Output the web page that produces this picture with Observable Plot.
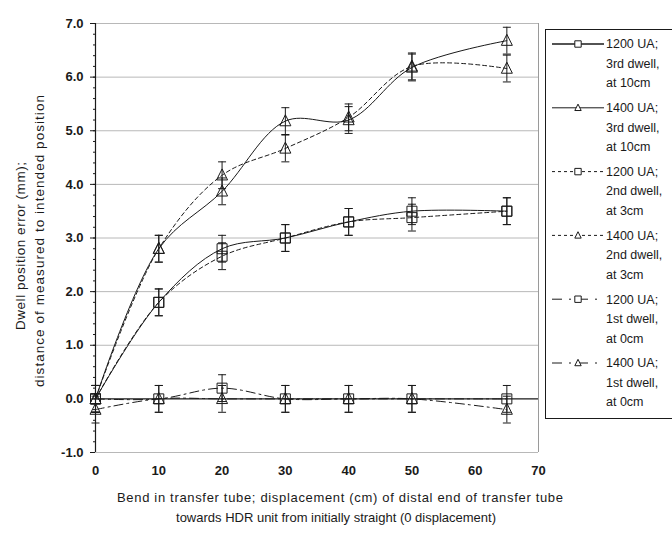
<!DOCTYPE html>
<html><head><meta charset="utf-8">
<script src="https://cdn.jsdelivr.net/npm/d3@7"></script>
<script src="https://cdn.jsdelivr.net/npm/@observablehq/plot@0.6"></script>
<style>
body{margin:0;background:#fff;}
#chart{width:672px;height:534px;overflow:hidden;}
</style></head><body><div id="chart"></div>
<script>
// ---- data ----
const displacementCm = [0, 10, 20, 30, 40, 50, 65];
const ua1200_3rd = [0.0, 1.8, 2.8, 3.0, 3.3, 3.5, 3.5];
const ua1400_3rd = [0.0, 2.8, 3.87, 5.18, 5.2, 6.18, 6.68];
const ua1200_2nd = [0.0, 1.8, 2.66, 3.0, 3.3, 3.38, 3.5];
const ua1400_2nd = [0.0, 2.8, 4.17, 4.67, 5.25, 6.2, 6.16];
const ua1200_1st = [0.0, 0.0, 0.2, 0.0, 0.0, 0.0, 0.0];
const ua1400_1st = [-0.2, 0.0, 0.0, 0.0, 0.0, 0.0, -0.2];
const errorHalf = 0.25;
const seriesLabels = [
  ["1200 UA;", "3rd dwell,", "at 10cm"],
  ["1400 UA;", "3rd dwell,", "at 10cm"],
  ["1200 UA;", "2nd dwell,", "at 3cm"],
  ["1400 UA;", "2nd dwell,", "at 3cm"],
  ["1200 UA;", "1st dwell,", "at 0cm"],
  ["1400 UA;", "1st dwell,", "at 0cm"]
];
const seriesValues = [ua1200_3rd, ua1400_3rd, ua1200_2nd, ua1400_2nd, ua1200_1st, ua1400_1st];
const xTicks = [0, 10, 20, 30, 40, 50, 60, 70];
const yTicks = [-1, 0, 1, 2, 3, 4, 5, 6, 7];
const yTitle1 = "Dwell position error (mm);";
const yTitle2 = "distance of measured to intended position";
const xTitle1 = "Bend in transfer tube; displacement (cm) of distal end of transfer tube";
const xTitle2 = "towards HDR unit from initially straight (0 displacement)";

// ---- styles ----
const markerKind = ["square", "triangle", "square", "triangle", "square", "triangle"];
const dashes = [null, null, "4,3", "4,3", "9,4,2,4", "9,4,2,4"];
const legendDashes = [null, null, "3,3", "3,3", "10,7,2,7", "10,7,2,7"];
const ink = "#1a1a1a";
const font = "'Liberation Sans', Arial, sans-serif";

const squareSym = {draw(ctx, size) { const r = Math.sqrt(size / Math.PI); ctx.rect(-r, -r, 2 * r, 2 * r); }};
const triSym = {draw(ctx, size) { const r = Math.sqrt(size / Math.PI);
  ctx.moveTo(0, -r * 1.15); ctx.lineTo(r, r * 0.85); ctx.lineTo(-r, r * 0.85); ctx.closePath(); }};
const capSym = {draw(ctx, size) { const r = Math.sqrt(size / Math.PI); ctx.moveTo(-r, 0); ctx.lineTo(r, 0); }};
const symFor = k => k === "square" ? squareSym : triSym;

const rows = seriesValues.flatMap((vals, s) => vals.map((v, i) => ({s, x: displacementCm[i], y: v})));

const marks = [
  Plot.ruleY(yTicks.filter(d => d !== 0), {stroke: "#b8b8b8", strokeWidth: 1}),
  Plot.ruleX([70], {stroke: "#9a9a9a"}),
  Plot.ruleY([0], {stroke: ink, strokeWidth: 1.2}),
  Plot.ruleX([0], {stroke: ink, strokeWidth: 1.2}),
  Plot.axisY(d3.range(-1, 7.0001, 0.2), {tickSize: 2, text: null, label: null, stroke: ink}),
  Plot.axisY(yTicks, {tickSize: 5, tickPadding: 7, tickFormat: d => d.toFixed(1), label: null,
    fontWeight: "bold", fontSize: 13, fill: ink, stroke: ink}),
  Plot.axisX(xTicks, {tickSize: 0, tickPadding: 13, label: null, fontWeight: "bold", fontSize: 13, fill: ink}),
  Plot.text([yTitle1], {frameAnchor: "left", textAnchor: "middle", rotate: -90, dx: -75, dy: 8, fontSize: 13.5, fill: ink, className: "yt1"}),
  Plot.text([yTitle2], {frameAnchor: "left", textAnchor: "middle", rotate: -90, dx: -56, dy: 3, fontSize: 13.5, fill: ink, className: "yt2"}),
  Plot.text([xTitle1], {frameAnchor: "bottom", textAnchor: "middle", dx: 23, dy: 49, fontSize: 13, fill: ink, className: "xt1"}),
  Plot.text([xTitle2], {frameAnchor: "bottom", textAnchor: "middle", dx: 19, dy: 69, fontSize: 13, fill: ink, className: "xt2"})
];

seriesValues.forEach((vals, s) => {
  const data = rows.filter(d => d.s === s);
  marks.push(Plot.line(data, {x: "x", y: "y", curve: "catmull-rom", stroke: ink, strokeWidth: 1,
    strokeDasharray: dashes[s] || undefined}));
});
marks.push(
  Plot.ruleX(rows, {x: "x", y1: d => d.y - errorHalf, y2: d => d.y + errorHalf, stroke: ink, strokeWidth: 1}),
  Plot.dot(rows, {x: "x", y: d => d.y - errorHalf, symbol: capSym, r: 4, stroke: ink, strokeWidth: 1}),
  Plot.dot(rows, {x: "x", y: d => d.y + errorHalf, symbol: capSym, r: 4, stroke: ink, strokeWidth: 1})
);
seriesValues.forEach((vals, s) => {
  const data = rows.filter(d => d.s === s);
  marks.push(Plot.dot(data, {x: "x", y: "y", symbol: symFor(markerKind[s]), r: markerKind[s] === "square" ? 5 : 5.5,
    stroke: ink, fill: "none", strokeWidth: 1}));
});

const chart = Plot.plot({
  width: 672, height: 534,
  marginLeft: 95, marginRight: 134, marginTop: 23, marginBottom: 82,
  style: {fontFamily: font, fontSize: "12px", color: ink, background: "#fff"},
  x: {domain: [0, 70], axis: null},
  y: {domain: [-1, 7], axis: null},
  marks
});
document.getElementById("chart").append(chart);

const svg = d3.select(chart);
// stretch titles to the widths seen in the reference
const stretch = (cls, len) => svg.selectAll(`.${cls} text`).attr("textLength", len).attr("lengthAdjust", "spacing");
stretch("xt1", 446);
stretch("xt2", 320);
stretch("yt1", 168);
stretch("yt2", 292);

// ---- legend ----
const lg = svg.append("g").attr("font-family", font).attr("font-size", 12.5)
  .attr("fill", ink).attr("text-anchor", "start");
lg.append("rect").attr("x", 545.5).attr("y", 29.5).attr("width", 140).attr("height", 389)
  .attr("fill", "#fff").attr("stroke", ink).attr("stroke-width", 1);
seriesLabels.forEach((lines, s) => {
  const y0 = 44 + s * 63.8;
  lg.append("line").attr("x1", 552).attr("x2", 604).attr("y1", y0).attr("y2", y0)
    .attr("stroke", ink).attr("stroke-width", s === 0 ? 1.6 : 1).attr("stroke-dasharray", legendDashes[s]);
  lg.append("path").attr("transform", `translate(578,${y0})`)
    .attr("d", d3.symbol(symFor(markerKind[s]), Math.PI * 3.2 * 3.2)())
    .attr("fill", "#fff").attr("stroke", ink).attr("stroke-width", 1);
  lines.forEach((t, j) => {
    lg.append("text").attr("x", 606).attr("y", y0 + j * 19.5).attr("dy", "0.35em").text(t);
  });
});
</script>
</body></html>
